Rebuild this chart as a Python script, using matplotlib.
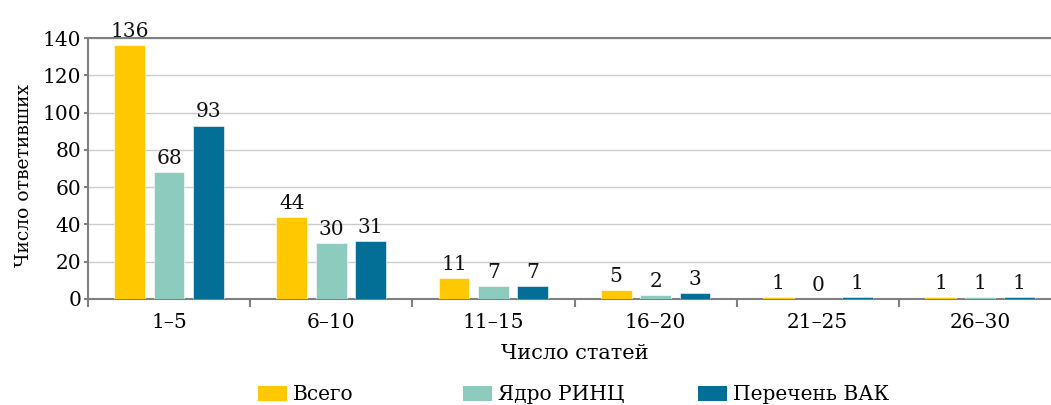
import matplotlib
matplotlib.use("Agg")
import matplotlib.pyplot as plt
from matplotlib.patches import Patch
import numpy as np

categories = ["1–5", "6–10", "11–15", "16–20", "21–25", "26–30"]
series_names = ["Всего", "Ядро РИНЦ", "Перечень ВАК"]
vsego = [136, 44, 11, 5, 1, 1]
yadro = [68, 30, 7, 2, 0, 1]
vak = [93, 31, 7, 3, 1, 1]
colors = ["#FFC800", "#8ECBBF", "#036E96"]
y_ticks = [0, 20, 40, 60, 80, 100, 120, 140]

plt.rcParams['font.family'] = ['DejaVu Serif']
fs = 14.5

fig = plt.figure(figsize=(10.51, 4.05), dpi=100)
ax = fig.add_axes([88/1051, 106/405, (1061-88)/1051, (367-106)/405])

x = np.arange(len(categories))
offs = [-0.243, 0.0, 0.243]
w = 0.19
for vals, off, c, name in zip([vsego, yadro, vak], offs, colors, series_names):
    ax.bar(x + off, vals, width=w, color=c, label=name, zorder=3,
           edgecolor='white', linewidth=0.4)
    for xi, v in zip(x + off, vals):
        ax.annotate(str(v), (xi, v), xytext=(0, 3), textcoords='offset points',
                    ha='center', va='bottom', fontsize=fs, color='#111111')

ax.set_xlim(-0.5, len(categories) - 0.5)
ax.set_ylim(0, 140)
ax.set_yticks(y_ticks)
ax.set_xticks(x)
ax.set_xticklabels(categories)
ax.set_xticks(np.arange(len(categories) + 1) - 0.5, minor=True)
ax.tick_params(axis='x', which='major', length=0, pad=10, labelsize=fs)
ax.tick_params(axis='x', which='minor', length=6, width=1.5, color='#808080')
ax.tick_params(axis='y', length=3, width=1.5, color='#808080', labelsize=fs, pad=2)
ax.grid(axis='y', color='#CCCCCC', linewidth=1, zorder=0)
ax.set_axisbelow(True)
for s in ['left', 'bottom', 'top']:
    ax.spines[s].set_color('#808080')
    ax.spines[s].set_linewidth(1.5)
ax.spines['right'].set_visible(False)

ax.set_ylabel("Число ответивших", fontsize=13.5)
ax.yaxis.set_label_coords((33 - 88) / 973, (299 - 175) / 261)
ax.set_xlabel("Число статей", fontsize=15, labelpad=9)

# legend entries placed individually
legend_x = [258, 463, 698]
for name, c, lx in zip(series_names, colors, legend_x):
    fig.legend(handles=[Patch(facecolor=c, edgecolor='none')], labels=[name],
               loc='center left', bbox_to_anchor=(lx / 1051, 1 - 395 / 405),
               frameon=False, fontsize=fs, handlelength=1.45, handleheight=0.7,
               handletextpad=0.3, borderaxespad=0, borderpad=0)

fig.savefig("out.png", dpi=100)
